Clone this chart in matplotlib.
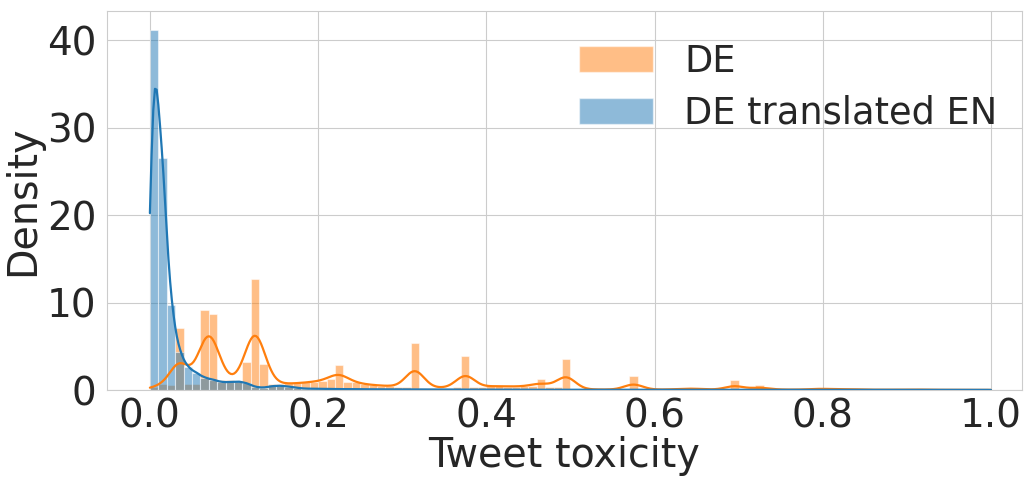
import numpy as np
import matplotlib
matplotlib.use("Agg")
import matplotlib.pyplot as plt
from matplotlib.patches import Patch
import seaborn as sns

# histogram bin heights (density), 100 bins of width 0.01 on [0, 1]
bin_width = 0.01
bin_edges = np.round(np.arange(0, 1.0 + bin_width / 2, bin_width), 4)

de = [0.4, 0.7, 0.6, 7.05, 0.7, 0.7, 9.1, 8.7, 1.1, 1.1,
      0.9, 3.15, 12.7, 3.0, 0.68, 0.68, 0.75, 0.75, 0.87, 0.95,
      1.03, 1.29, 2.85, 0.95, 0.87, 0.65, 0.57, 0.5, 0.46, 0.38,
      0.34, 5.4, 0.27, 0.27, 0.25, 0.25, 0.3, 3.85, 0.34, 0.34,
      0.46, 0.45, 0.4, 0.4, 0.42, 0.45, 1.25, 0.3, 0.3, 3.6,
      0.15, 0.08, 0.06, 0.05, 0.05, 0.05, 0.06, 1.6, 0.06, 0.05,
      0.04, 0.05, 0.1, 0.15, 0.2, 0.12, 0.05, 0.04, 0.05, 1.1,
      0.06, 0.05, 0.55, 0.1, 0.05, 0.04, 0.04, 0.04, 0.08, 0.18,
      0.15, 0.06, 0.08, 0.12, 0.05, 0.03, 0.03, 0.03, 0.03, 0.03,
      0.08, 0.05, 0.02, 0.02, 0.02, 0.02, 0.02, 0.02, 0.02, 0.02]

de_en = [41.2, 26.5, 9.7, 4.4, 2.6, 2.0, 1.4, 1.2, 0.9, 0.9,
         1.0, 0.8, 0.35, 0.25, 0.45, 0.5, 0.4, 0.25, 0.15, 0.15,
         0.12, 0.12, 0.1, 0.1, 0.1, 0.08, 0.08, 0.08, 0.07, 0.07,
         0.06, 0.06, 0.06, 0.05, 0.05, 0.05, 0.05, 0.05, 0.04, 0.04,
         0.04, 0.04, 0.04, 0.04, 0.03, 0.03, 0.03, 0.03, 0.03, 0.03,
         0.02, 0.02, 0.02, 0.02, 0.02, 0.02, 0.02, 0.02, 0.02, 0.02,
         0.02, 0.02, 0.02, 0.02, 0.02, 0.02, 0.02, 0.02, 0.02, 0.02,
         0.02, 0.02, 0.02, 0.02, 0.02, 0.02, 0.02, 0.02, 0.02, 0.02,
         0.02, 0.02, 0.02, 0.02, 0.02, 0.02, 0.02, 0.02, 0.02, 0.02,
         0.02, 0.02, 0.02, 0.02, 0.02, 0.02, 0.02, 0.02, 0.02, 0.02]

labels = ["DE", "DE translated EN"]
x_ticks = [0.0, 0.2, 0.4, 0.6, 0.8, 1.0]
y_ticks = [0, 10, 20, 30, 40]


def kde_from_bins(heights, bw, grid):
    # gaussian kde of the binned sample (weights = bar areas)
    centers = bin_edges[:-1] + bin_width / 2
    w = np.asarray(heights) * bin_width
    z = (grid[None, :] - centers[:, None]) / bw
    return (w[:, None] * np.exp(-0.5 * z ** 2)).sum(0) / (bw * np.sqrt(2 * np.pi))


sns.set_style("whitegrid")
plt.rcParams['font.family'] = ['DejaVu Sans']

fig = plt.figure(figsize=(10.25, 4.79), dpi=100)
ax = fig.add_axes([0.1044, 0.1858, 0.8927, 0.7919])

grid = np.linspace(0, 1.0, 500)

# orange first, blue on top
ax.bar(bin_edges[:-1], de, width=bin_width, align='edge', color='C1',
       alpha=0.5, edgecolor='white', linewidth=0.8)
ax.bar(bin_edges[:-1], de_en, width=bin_width, align='edge', color='C0',
       alpha=0.5, edgecolor='white', linewidth=0.8)
ax.plot(grid, kde_from_bins(de, 0.011, grid), color='C1', lw=1.6)
ax.plot(grid, kde_from_bins(de_en, 0.0055, grid), color='C0', lw=1.6)

ax.set_xlim(-0.051, 1.037)
ax.set_ylim(0, 43.4)
ax.set_xticks(x_ticks)
ax.set_yticks(y_ticks)
ax.tick_params(labelsize=28, colors='.15')
ax.tick_params(axis='x', pad=2)
ax.tick_params(axis='y', pad=4)
ax.set_xlabel("Tweet toxicity", fontsize=28.5, color='.15', labelpad=0)
ax.set_ylabel("Density", fontsize=28.5, color='.15', labelpad=3)

handles = [Patch(facecolor='C1', alpha=0.5, edgecolor='white'),
           Patch(facecolor='C0', alpha=0.5, edgecolor='white')]
ax.legend(handles, labels, loc='upper left', bbox_to_anchor=(0.5, 0.953),
          borderaxespad=0, frameon=False, fontsize=26.5, handlelength=2.0,
          handletextpad=0.85, labelspacing=0.4, labelcolor='.15')

fig.savefig("out.png", dpi=100)
